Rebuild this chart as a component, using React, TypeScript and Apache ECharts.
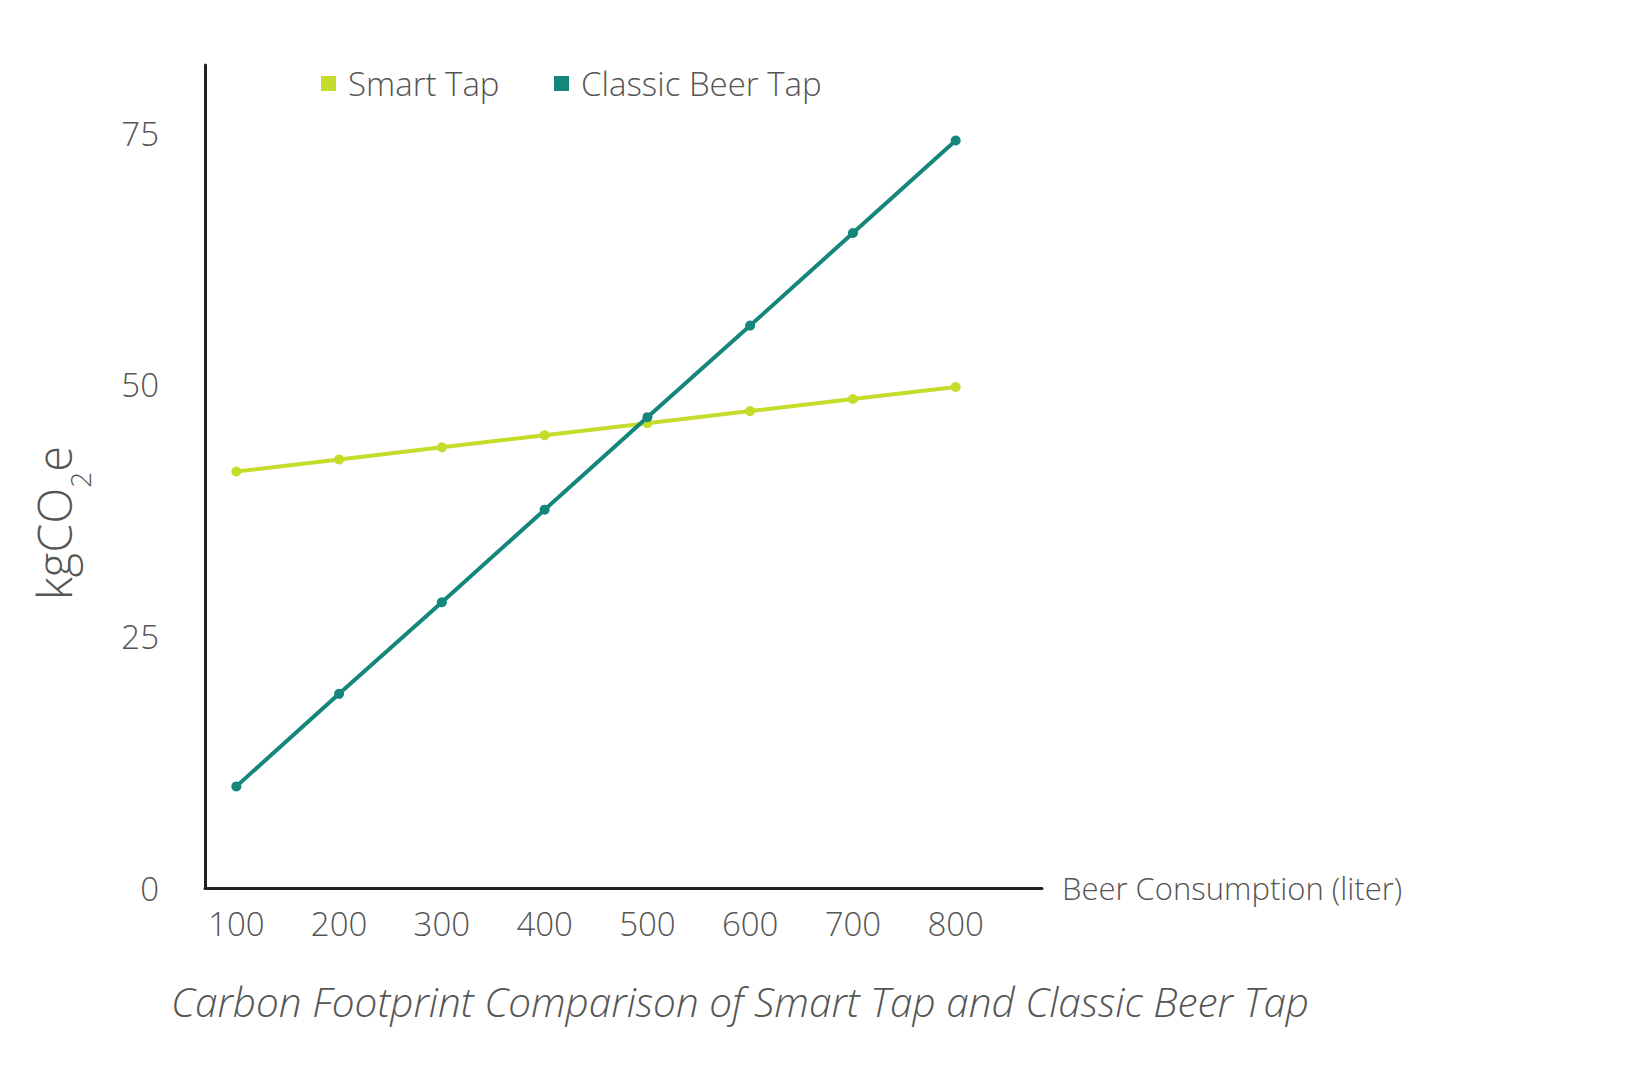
import React, { useEffect, useRef } from "react";
import * as echarts from "echarts";

// Beer consumption (liter) on the x axis
const consumption = [100, 200, 300, 400, 500, 600, 700, 800];
// kgCO2e per tap type
const smartTap = [41.4, 42.6, 43.8, 45.0, 46.2, 47.4, 48.6, 49.8];
const classicBeerTap = [10.1, 19.3, 28.4, 37.6, 46.8, 55.9, 65.1, 74.3];
// tick labels
const yTickValues = [0, 25, 50, 75];
const xTickValues = consumption;

const seriesNames = ["Smart Tap", "Classic Beer Tap"];
const titleText = "Carbon Footprint Comparison of Smart Tap and Classic Beer Tap";
const xAxisName = "Beer Consumption (liter)";

const LIME = "#c6dc2b";
const TEAL = "#14867a";
const TEXT = "#555555";
const FONT = "'Open Sans', 'Noto Sans', sans-serif";

export default function App() {
  const ref = useRef<HTMLDivElement>(null);

  useEffect(() => {
    if (!ref.current) return;
    const chart = echarts.init(ref.current, undefined, { renderer: "svg" });

    const legendText = {
      color: TEXT,
      fontFamily: FONT,
      fontSize: 33,
      fontWeight: 300,
      padding: [0, 0, 0, 7],
    };

    chart.setOption({
      animation: false,
      backgroundColor: "#ffffff",
      textStyle: { fontFamily: FONT },
      title: {
        text: titleText,
        left: 166,
        top: 976,
        textStyle: {
          color: TEXT,
          fontFamily: FONT,
          fontSize: 40.5,
          fontStyle: "italic",
          fontWeight: 300,
        },
      },
      legend: [
        {
          data: [seriesNames[0]],
          left: 316,
          top: 62,
          icon: "rect",
          itemWidth: 15,
          itemHeight: 15,
          textStyle: legendText,
        },
        {
          data: [seriesNames[1]],
          left: 549,
          top: 62,
          icon: "rect",
          itemWidth: 15,
          itemHeight: 15,
          textStyle: legendText,
        },
      ],
      grid: { left: 205, right: 596, top: 65, bottom: 192, containLabel: false },
      xAxis: {
        type: "value",
        min: 69.5,
        max: 884,
        name: xAxisName,
        nameLocation: "end",
        nameGap: 20,
        nameTextStyle: { color: TEXT, fontSize: 31, fontWeight: 300, fontFamily: FONT },
        axisLine: { show: true, lineStyle: { color: "#222222", width: 3 } },
        axisTick: { show: false },
        splitLine: { show: false },
        axisLabel: {
          customValues: xTickValues,
          color: TEXT,
          fontSize: 33,
          fontWeight: 300,
          fontFamily: FONT,
          margin: 19,
        },
      },
      yAxis: {
        type: "value",
        min: 0,
        max: 81.8,
        axisLine: { show: true, lineStyle: { color: "#222222", width: 3 } },
        axisTick: { show: false },
        splitLine: { show: false },
        axisLabel: {
          customValues: yTickValues,
          color: TEXT,
          fontSize: 33,
          fontWeight: 300,
          fontFamily: FONT,
          margin: 46,
        },
      },
      graphic: [
        {
          type: "text",
          x: 54,
          y: 523,
          rotation: Math.PI / 2,
          style: {
            text: "{a|kgCO}{b|2}{a|e}",
            align: "center",
            verticalAlign: "middle",
            fill: TEXT,
            rich: {
              a: { fontSize: 47, fontFamily: FONT, fontWeight: 300, fill: TEXT, lineHeight: 52 },
              b: {
                fontSize: 28,
                fontFamily: FONT,
                fontWeight: 300,
                fill: TEXT,
                verticalAlign: "bottom",
                lineHeight: 28,
                padding: [0, 0, -14, 0],
              },
            },
          },
        },
      ],
      series: [
        {
          name: seriesNames[0],
          type: "line",
          data: consumption.map((x, i) => [x, smartTap[i]]),
          symbol: "circle",
          symbolSize: 10,
          itemStyle: { color: LIME },
          lineStyle: { color: LIME, width: 4 },
          z: 2,
        },
        {
          name: seriesNames[1],
          type: "line",
          data: consumption.map((x, i) => [x, classicBeerTap[i]]),
          symbol: "circle",
          symbolSize: 10,
          itemStyle: { color: TEAL },
          lineStyle: { color: TEAL, width: 4 },
          z: 3,
        },
      ],
    });

    return () => chart.dispose();
  }, []);

  return <div ref={ref} style={{ width: 1638, height: 1080, margin: -8 }} />;
}
